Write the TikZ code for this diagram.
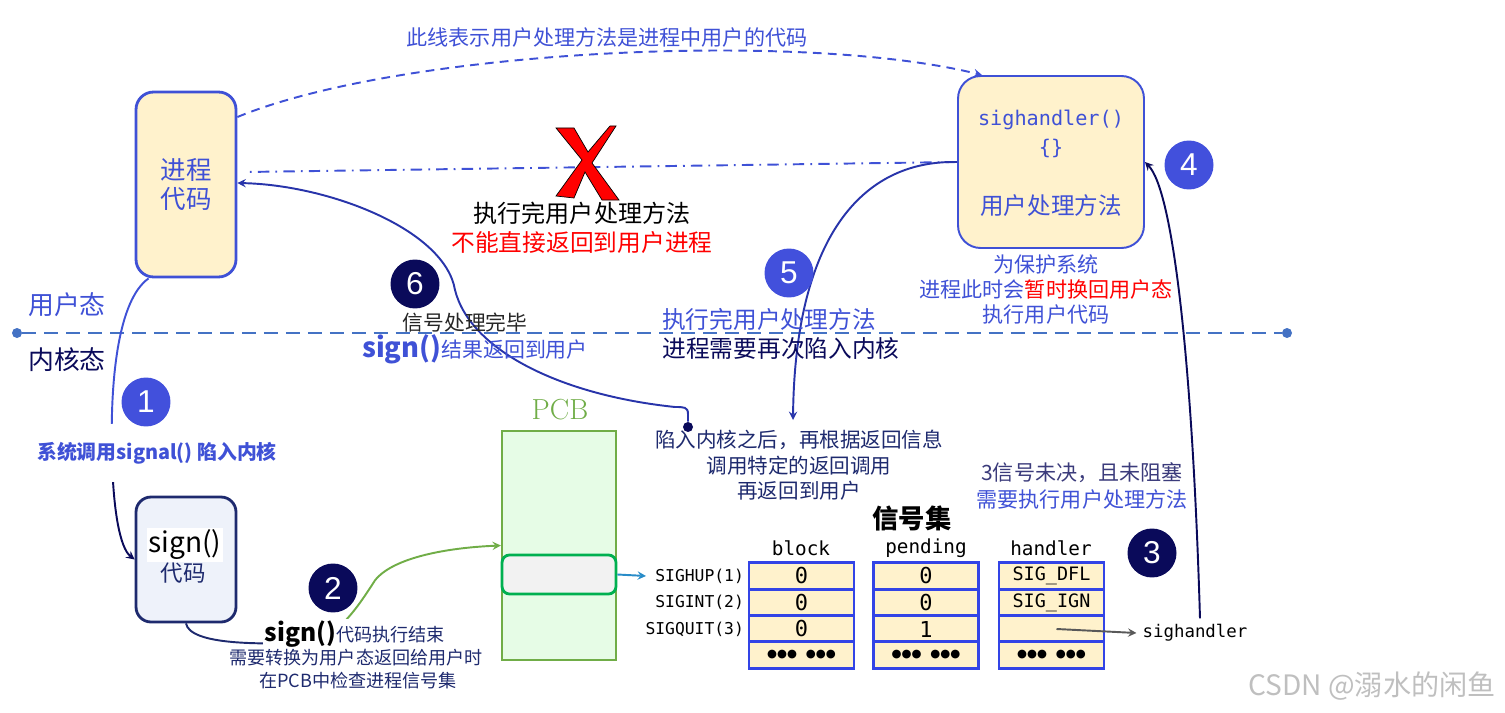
\documentclass[tikz,border=0pt]{standalone}
\usepackage{fontspec}
\setmainfont{Noto Sans CJK SC}
\setmonofont{DejaVu Sans Mono}
\newfontfamily\pcbfont{Latin Modern Roman}
\newfontfamily\numfont{Liberation Sans}
\newfontfamily\symfont{DejaVu Sans}
\newcommand{\fsz}[1]{\fontsize{#1}{#1}\selectfont}
\newcommand{\moredots}{{\symfont\fsz{6.5}●●●\hspace{5pt}●●●}}
\definecolor{ublue}{RGB}{63,81,214}
\definecolor{dotblue}{RGB}{66,80,220}
\definecolor{navy}{RGB}{10,10,90}
\definecolor{inkblue}{RGB}{30,42,110}
\definecolor{midblue}{RGB}{40,52,170}
\definecolor{divblue}{RGB}{68,114,196}
\definecolor{paleyel}{RGB}{255,242,204}
\definecolor{palegrey}{RGB}{238,242,250}
\definecolor{pcbgreen}{RGB}{112,173,71}
\definecolor{palegreen}{RGB}{230,252,230}
\definecolor{slotgreen}{RGB}{0,176,80}
\definecolor{cellblue}{RGB}{51,68,230}
\definecolor{arrowteal}{RGB}{40,140,200}
\begin{document}
\begin{tikzpicture}
[x=0.02cm, y=-0.02cm,
  userbox/.style={draw=ublue, fill=paleyel, line width=1.6pt, rounded corners=0.35cm, align=center, text=ublue},
  numdot/.style={circle, minimum size=0.98cm, inner sep=0pt, text=white, font=\numfont\fsz{18}},
  bluedot/.style={numdot, fill=dotblue},
  navydot/.style={numdot, fill=navy},
  enddot/.style={circle, inner sep=0pt, minimum size=0.2cm},
  cell/.style={draw=cellblue, fill=paleyel, line width=1.6pt, minimum width=2.1cm, minimum height=0.53cm, inner sep=0pt, font=\ttfamily\fsz{12.5}},
  signame/.style={anchor=east, inner sep=1pt, font=\ttfamily\fsz{9.3}},
  colhead/.style={inner sep=1pt, font=\ttfamily\fsz{11}},
  note/.style={inner sep=1pt, font=\fsz{12}},
  conn/.style={line width=1.1pt},
  link/.style={conn, -stealth}]
\useasboundingbox (0,0) rectangle (1505,713);
%% boxes
\node[userbox, minimum width=2cm, minimum height=3.7cm, font=\fsz{14.5}] (proc) at (186,184.5) {进程\\[2.5pt]代码};
\node[userbox, line width=1.1pt, rounded corners=0.45cm, minimum width=3.72cm, minimum height=3.44cm] (hand) at (1051,162) {};
\node[text=ublue, font=\ttfamily\fsz{11.5}] (hsig) at (1051,120) {sighandler()};
\node[text=ublue, font=\ttfamily\fsz{11.5}] (hbr) at (1051,148) {\{\}};
\node[text=ublue, font=\fsz{13.4}] (hmeth) at (1051,206) {用户处理方法};
\node[draw=inkblue, fill=palegrey, line width=1.6pt, rounded corners=0.3cm, minimum width=2cm, minimum height=2.5cm] (sg) at (186,559.5) {};
\node[fill=white, inner sep=1pt, font=\fsz{16}] (sgname) at (185,545) {sign()};
\node[text=inkblue, font=\fsz{12.8}] (sgcode) at (183,573) {代码};
%% pcb
\node[text=pcbgreen, font=\pcbfont\fsz{16.5}] (pcbname) at (560,410) {PCB};
\node[draw=pcbgreen, fill=palegreen, line width=1.3pt, minimum width=2.28cm, minimum height=4.58cm] (pcb) at (559,545.5) {};
\node[draw=slotgreen, fill=black!5, line width=1.6pt, rounded corners=0.15cm, minimum width=2.28cm, minimum height=0.78cm] (slot) at (559,574.5) {};
\coordinate (slotend) at (646,576);
\draw[link, arrowteal] (slot.east) -- (slotend);
%% signal set
\node[font=\bfseries\fsz{15}] (sigset) at (912,518) {信号集};
\foreach \i/\nm/\y in {1/SIGHUP(1)/576, 2/SIGINT(2)/602.5, 3/SIGQUIT(3)/629}
  \node[signame] (sig\i) at (746,\y) {\nm};
\foreach \col/\x/\a/\b/\c in {blk/801.5/0/0/0, pnd/926/0/0/1, hdl/1051.5/{\fsz{10.5}SIG\_DFL}/{\fsz{10.5}SIG\_IGN}/{}} {
  \node[cell] (\col1) at (\x,576) {\a};
  \node[cell] (\col2) at (\x,602.5) {\b};
  \node[cell] (\col3) at (\x,629) {\c};
  \node[cell] (\col4) at (\x,655) {\moredots};
}
\foreach \col/\x/\txt in {blk/801/block, pnd/926/pending, hdl/1051/handler}
  \node[colhead] (h\col) at (\x,548) {\txt};
\node[font=\ttfamily\fsz{9.9}] (shname) at (1195,633) {sighandler};
\draw[link, black!65] ([xshift=0.1cm]hdl3.center) -- (shname.west);
%% user / kernel line
\node[enddot, fill=divblue] (divl) at (17,333) {};
\node[enddot, fill=divblue] (divr) at (1287,333) {};
\draw[divblue, line width=1.7pt, dash pattern=on 8pt off 4.5pt] (divl) -- (divr);
\node[text=ublue, font=\fsz{14.7}] (ustate) at (67,305) {用户态};
\node[text=navy, font=\fsz{14.7}] (kstate) at (67,360) {内核态};
%% connectors
\draw[link, ublue, dash pattern=on 5pt off 3.5pt] ([yshift=1.35cm]proc.east) .. controls (400,50) and (800,30) .. ([xshift=0.5cm]hand.north west);
\draw[conn, ublue, dash pattern=on 6.5pt off 3.5pt on 1pt off 3.5pt] (hand.west) -- ([xshift=0.16cm,yshift=0.25cm]proc.east);
\coordinate (c1) at (112,455);
\draw[conn, ublue] ([xshift=0.28cm]proc.south west) .. controls (118,300) and (110,380) .. (c1);
\draw[link, navy] (c1) .. controls (113,510) and (120,548) .. (sg.west);
\coordinate (m2) at (318,642);
\draw[conn, inkblue] (sg.south) .. controls (190,645) and (260,645) .. (m2);
\draw[link, pcbgreen] (m2) .. controls (345,628) and (362,600) .. (372,585) .. controls (385,560) and (440,548) .. (pcb.west);
\draw[link, navy] ([xshift=0.1cm]shname.north) .. controls (1192,350) and (1172,190) .. (hand.east);
\coordinate (kin) at (793,420);
\draw[link, midblue] (hand.west) .. controls (860,160) and (795,240) .. (kin);
\node[enddot, fill=navy] (d6) at (688,427) {};
\draw[link, midblue] (d6) -- (688,414) .. controls (688,407) and (684,407) .. (675,407) .. controls (560,395) and (470,350) .. (455,290) .. controls (445,230) and (330,185) .. ([yshift=0.03cm]proc.east);
%% red cross
\draw[fill=red, draw=black, line width=0.4pt] (556,128) -- (574,128) -- (588,152) -- (610,126) -- (616,126) -- (592,163) -- (619,200) -- (602,200) -- (585,172) -- (574,198) -- (556,196) -- (582,160) -- cycle;
%% texts
\node[text=ublue, note] (toplbl) at (607,37) {此线表示用户处理方法是进程中用户的代码};
\node[note, font=\fsz{13.7}] (noret1) at (582,213) {执行完用户处理方法};
\node[note, text=red, font=\fsz{13.5}] (noret2) at (582,242) {不能直接返回到用户进程};
\node[note, text=ublue] (prot1) at (1046,264) {为保护系统};
\node[note, text=ublue] (prot2) at (1046,289) {进程此时会\textcolor{red}{暂时换回用户态}};
\node[note, text=ublue] (prot3) at (1046,314) {执行用户代码};
\node[note, text=ublue, font=\fsz{13.5}] (back1) at (769,319) {执行完用户处理方法};
\node[note, text=navy, font=\fsz{13.5}] (back2) at (781,348) {进程需要再次陷入内核};
\node[note, text=inkblue, font=\fsz{11.7}] (ret1) at (799,440) {陷入内核之后，再根据返回信息};
\node[note, text=inkblue, font=\fsz{11.7}] (ret2) at (799,466) {调用特定的返回调用};
\node[note, text=inkblue, font=\fsz{11.7}] (ret3) at (799,491) {再返回到用户};
\node[note, text=black!85, font=\fsz{11.8}] (done1) at (465,323) {信号处理完毕};
\node[note, text=ublue, font=\fsz{11.9}] (done2) at (475,349) {{\bfseries\fsz{15.5}sign()}结果返回到用户};
\node[note, fill=white, text=inkblue, font=\fsz{10.3}] (fin1) at (355,634) {{\bfseries\color{black}\fsz{14}sign()}代码执行结束};
\node[note, text=inkblue, font=\fsz{10.3}] (fin2) at (356,658) {需要转换为用户态返回给用户时};
\node[note, text=inkblue, font=\fsz{10.3}] (fin3) at (358,681) {在PCB中检查进程信号集};
\node[fill=white, inner xsep=1pt, inner ysep=0.36cm, text=ublue, font=\bfseries\fsz{11.3}] (sys) at (157,453) {系统调用signal() 陷入内核};
\node[note, text=navy!80] (n3a) at (1082,473) {3信号未决，且未阻塞};
\node[note, text=ublue] (n3b) at (1082,499) {需要执行用户处理方法};
\node[text=black!25, font=\fsz{16}] (wm) at (1372,686) {CSDN @溺水的闲鱼};
%% step numbers
\node[bluedot] (n1) at (146,402) {1};
\node[navydot] (n2) at (333,588) {2};
\node[navydot] (n3) at (1152,553) {3};
\node[bluedot] (n4) at (1189,165) {4};
\node[bluedot] (n5) at (789,273) {5};
\node[navydot] (n6) at (415,284) {6};
\end{tikzpicture}
\end{document}
